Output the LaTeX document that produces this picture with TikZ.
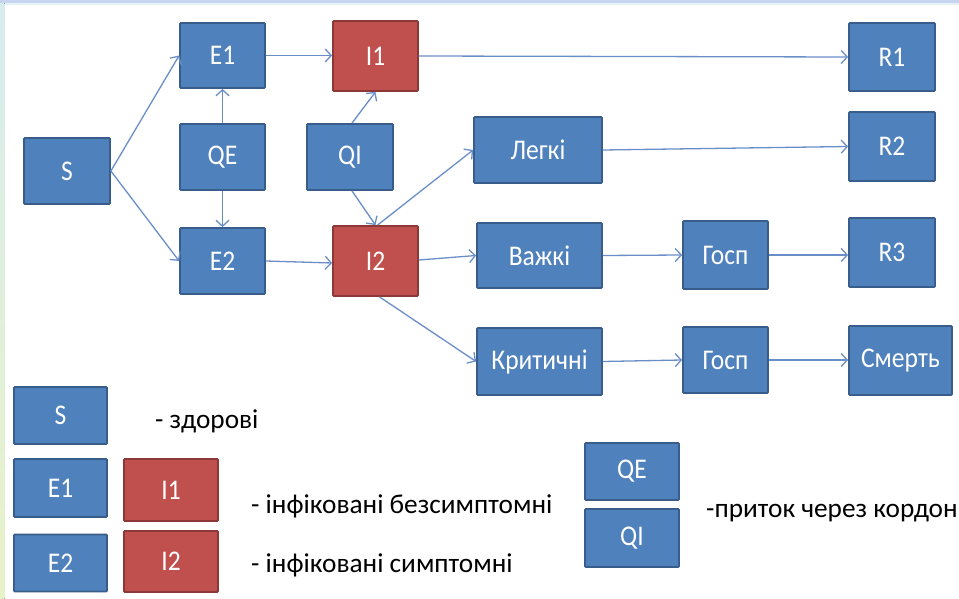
\documentclass[tikz,border=0pt]{standalone}
\usepackage{fontspec}
\setmainfont{Carlito}
\newfontfamily\boxfont[FakeStretch=0.895]{Carlito}
\usetikzlibrary{arrows.meta}
\definecolor{boxblue}{HTML}{4F81BD}
\definecolor{boxblueline}{HTML}{385D8A}
\definecolor{boxred}{HTML}{C0504D}
\definecolor{boxredline}{HTML}{8C3836}
\definecolor{arrowcol}{HTML}{6A8FC8}
\definecolor{topstrip}{HTML}{C8D5F0}
\definecolor{lefttop}{HTML}{D8ECF0}
\definecolor{leftbot}{HTML}{E8F2C8}
\tikzset{
  bx/.style 2 args={rectangle, inner sep=0pt, minimum width=#1, minimum height=#2,
    fill=boxblue, draw=boxblueline, line width=1.8pt, rounded corners=1pt,
    text=white, font=\boxfont\fontsize{28.5}{32}\selectfont},
  redbx/.style={fill=boxred, draw=boxredline},
  conn/.style={draw=arrowcol, line width=1.3pt, -{Straight Barb[length=6pt,width=13pt,line width=1.3pt]}},
  legtext/.style={anchor=base west, inner sep=0pt, text=black, font=\fontsize{27.3}{32}\selectfont}
}
\begin{document}
\begin{tikzpicture}[x=1pt,y=-1pt]
\useasboundingbox (0,0) rectangle (959,599);
\fill[white] (0,0) rectangle (959,599);
\fill[topstrip] (0,0) rectangle (959,3.5);
\fill[top color=lefttop, bottom color=leftbot] (0,3.5) rectangle (4.5,599);
\fill[lefttop!70!white] (4.5,3.5) rectangle (959,5);

% main diagram
\node[bx={86pt}{66pt}] (S) at (67,171) {S};
\node[bx={85pt}{65pt}] (E1) at (222.5,55.5) {E1};
\node[bx={85pt}{66pt}] (QE) at (222.5,157) {QE};
\node[bx={85pt}{66pt}] (E2) at (222.5,261) {E2};
\node[bx={85pt}{70pt},redbx] (I1) at (375.5,56) {I1};
\node[bx={86pt}{66pt}] (QI) at (350,157) {QI};
\node[bx={85pt}{70pt},redbx] (I2) at (375.5,261) {I2};
\node[bx={86pt}{68pt}] (R1) at (892,57) {R1};
\node[bx={128pt}{66pt}] (L) at (538,150) {Легкі};
\node[bx={86pt}{69pt}] (R2) at (892,146.5) {R2};
\node[bx={125pt}{65pt}] (V) at (539.5,255.5) {Важкі};
\node[bx={85pt}{68pt}] (G1) at (725.5,255) {Госп};
\node[bx={86pt}{69pt}] (R3) at (892,252.5) {R3};
\node[bx={125pt}{67pt}] (K) at (539.5,361.5) {Критичні};
\node[bx={85pt}{66pt}] (G2) at (725.5,360) {Госп};
\node[bx={103pt}{69pt}] (D) at (900.5,360.5) {Смерть};

% connectors
\draw[conn] (S.east) -- (E1.west);
\draw[conn] (S.east) -- (E2.west);
\draw[conn] (QE.north) -- (E1.south);
\draw[conn] (QE.south) -- (E2.south |- E2.north);
\draw[conn] (E1.east) -- (I1.west |- E1.east);
\draw[conn] (E2.east) -- ([yshift=-2pt]I2.west);
\draw[conn] ([xshift=2pt]QI.north) -- (I1.south);
\draw[conn] ([xshift=2pt]QI.south) -- (I2.north);
\draw[conn] (I1.east) -- (R1.west);
\draw[conn] ([xshift=2pt]I2.north) -- (L.west);
\draw[conn] ([yshift=1pt]I2.east) -- (V.west);
\draw[conn] ([xshift=4pt]I2.south) -- (K.west);
\draw[conn] (L.east) -- (R2.west);
\draw[conn] (V.east) -- (G1.west);
\draw[conn] (G1.east) -- (R3.west |- G1.east);
\draw[conn] (K.east) -- (G2.west);
\draw[conn] (G2.east) -- (D.west |- G2.east);

% legend
\node[bx={93pt}{57pt}] (LS) at (60.5,415.5) {S};
\node[bx={93pt}{58pt}] (LE1) at (60.5,488) {E1};
\node[bx={94pt}{62pt},redbx] (LI1) at (171,490) {I1};
\node[bx={93pt}{57pt}] (LE2) at (60.5,563) {E2};
\node[bx={94pt}{61pt},redbx] (LI2) at (171,561.5) {I2};
\node[bx={94pt}{57pt}] (LQE) at (632,471.5) {QE};
\node[bx={94pt}{58pt}] (LQI) at (632,538) {QI};

\node[legtext] (t1) at (155,428) {- здорові};
\node[legtext] (t2) at (251,513) {- інфіковані безсимптомні};
\node[legtext] (t3) at (251,572) {- інфіковані симптомні};
\node[legtext] (t4) at (706,517) {-приток через кордон};
\end{tikzpicture}
\end{document}
